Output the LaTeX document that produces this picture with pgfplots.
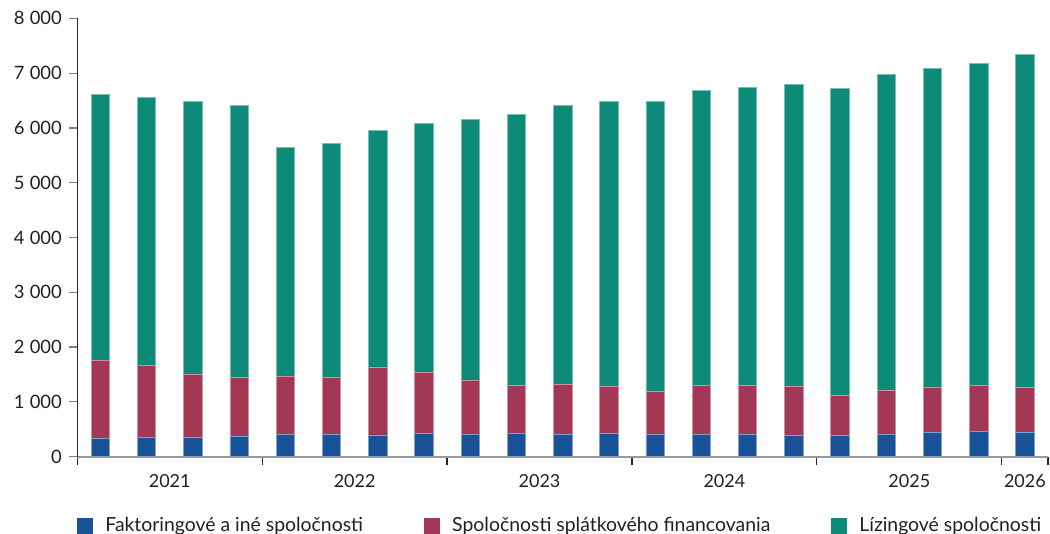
\documentclass[border=0pt]{standalone}
\usepackage{pgfplots}
\usepackage{pgfplotstable}
\pgfplotsset{compat=1.18}
\usepackage{fontspec}
\setmainfont{Lato}
\definecolor{cblue}{HTML}{1B5398}
\definecolor{cred}{HTML}{A33856}
\definecolor{cgreen}{HTML}{0E8A78}
\definecolor{ctext}{HTML}{231F20}
\pgfplotstableread{
x f s l
0 328 1424 4854
1 347 1314 4897
2 347 1149 4989
3 365 1077 4976
4 401 1066 4179
5 409 1033 4273
6 396 1228 4325
7 420 1120 4544
8 409 991 4750
9 420 876 4952
10 401 926 5085
11 420 857 5214
12 409 777 5299
13 409 894 5376
14 409 887 5438
15 383 894 5519
16 383 730 5610
17 409 808 5761
18 438 834 5816
19 456 840 5888
20 438 828 6077
}\data
\begin{document}
\begin{tikzpicture}
\begin{axis}[
  scale only axis,
  width=485.35pt, height=219.2pt,
  at={(0,0)}, anchor=south west,
  ybar stacked, bar width=9.2pt,
  xmin=-0.5, xmax=20.5, ymin=0, ymax=8000,
  axis lines*=left,
  x axis line style={color=black!40, line width=0.9pt},
  y axis line style={color=black!85, line width=0.6pt},
  ytick={0,1000,...,8000},
  scaled y ticks=false,
  yticklabel style={/pgf/number format/1000 sep={\hspace{2.6pt}}, /pgf/number format/assume math mode=true, font=\fontsize{9.2}{11}\selectfont, color=ctext},
  ytick style={color=black!50, line width=0.6pt},
  xtick={-0.5,3.5,7.5,11.5,15.5,19.5,20.5},
  xticklabels={},
  xtick style={color=black!85, line width=0.6pt},
  tick align=outside, major tick length=4.2pt,
  extra x ticks={1.5,5.5,9.5,13.5,17.5,20},
  extra x tick labels={2021,2022,2023,2024,2025,2026},
  extra x tick style={major tick length=0pt, tick label style={font=\fontsize{9}{11}\selectfont, color=ctext, yshift=-5.5pt}},
  legend columns=3,
  legend style={draw=none, fill=none, at={(rel axis cs:0,-0.158)}, anchor=west, inner sep=0pt, outer sep=0pt,
    font=\fontsize{9.7}{11}\selectfont, text=ctext,
    /tikz/every even column/.append style={column sep=28.5pt},
    /tikz/every odd column/.append style={column sep=4.3pt}},
  legend image code/.code={\draw[#1, draw=none] (0pt,-3.9pt) rectangle (7.75pt,3.9pt);},
  legend cell align=left,
]
\addplot[fill=cblue, draw=cblue!55!white, line width=0.35pt] table[x=x, y=f] {\data};
\addplot[fill=cred, draw=cred!55!white, line width=0.35pt] table[x=x, y=s] {\data};
\addplot[fill=cgreen, draw=cgreen!55!white, line width=0.35pt] table[x=x, y=l] {\data};
\legend{Faktoringové a iné spoločnosti,Spoločnosti splátkového financovania,Lízingové spoločnosti}
\end{axis}
\pgfresetboundingbox
\path (-38.65pt,-38.65pt) rectangle (486.35pt,228.35pt);
\end{tikzpicture}
\end{document}
